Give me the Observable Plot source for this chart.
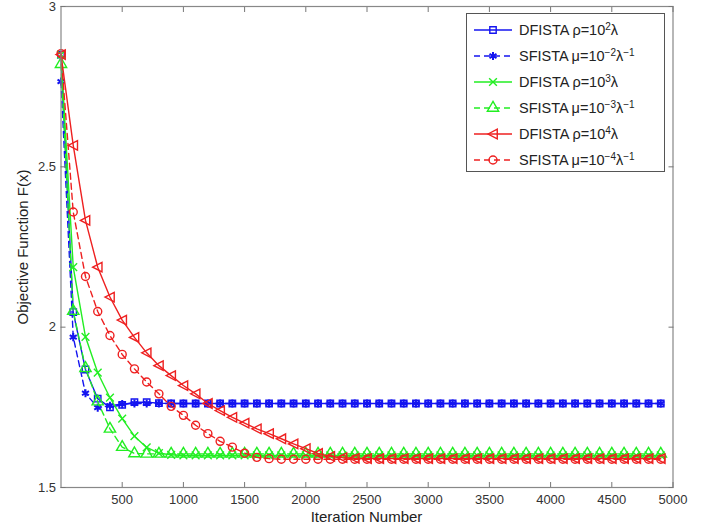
<!DOCTYPE html>
<html>
<head>
<meta charset="utf-8">
<script src="https://cdn.jsdelivr.net/npm/d3@7"></script>
<script src="https://cdn.jsdelivr.net/npm/@observablehq/plot@0.6"></script>
<style>
  body { margin: 0; background: #fff; }
  #wrap { position: relative; width: 715px; height: 531px; font-family: "Liberation Sans", Arial, sans-serif; }
  #legend { position: absolute; left: 466px; top: 13px; width: 199px; height: 159px; border: 1px solid #555; background: #fff; box-sizing: border-box; padding-top: 3px; }
  .row { display: flex; align-items: center; height: 26px; font-size: 14.5px; color: #222; }
  .row svg { margin-left: 6px; margin-right: 6px; }
  sup { font-size: 10px; vertical-align: 5px; line-height: 0; }
</style>
</head>
<body>
<div id="wrap"></div>
<script>
// ---- data ----
const iterations = [0,100,200,300,400,500,600,700,800,900,1000,1100,1200,1300,1400,1500,1600,1700,1800,1900,
  2000,2100,2200,2300,2400,2500,2600,2700,2800,2900,3000,3100,3200,3300,3400,3500,3600,3700,3800,3900,
  4000,4100,4200,4300,4400,4500,4600,4700,4800,4900];

const dfista_rho1e2 = [2.850,2.047,1.868,1.777,1.750,1.758,1.766,1.766,1.763,1.762,1.762,1.762,1.762,1.762,1.762,1.762,1.762,1.762,1.762,1.762,
  1.762,1.762,1.762,1.762,1.762,1.762,1.762,1.762,1.762,1.762,1.762,1.762,1.762,1.762,1.762,1.762,1.762,1.762,1.762,1.762,
  1.762,1.762,1.762,1.762,1.762,1.762,1.762,1.762,1.762,1.762];
const sfista_mu1e2 = [2.766,1.969,1.794,1.749,1.755,1.760,1.762,1.762,1.762,1.762,1.762,1.762,1.762,1.762,1.762,1.762,1.762,1.762,1.762,1.762,
  1.762,1.762,1.762,1.762,1.762,1.762,1.762,1.762,1.762,1.762,1.762,1.762,1.762,1.762,1.762,1.762,1.762,1.762,1.762,1.762,
  1.762,1.762,1.762,1.762,1.762,1.762,1.762,1.762,1.762,1.762];
const dfista_rho1e3 = [2.850,2.187,1.970,1.858,1.780,1.715,1.660,1.625,1.607,1.602,1.600,1.600,1.600,1.600,1.600,1.600,1.600,1.600,1.600,1.600,
  1.600,1.600,1.600,1.600,1.600,1.600,1.600,1.600,1.600,1.600,1.600,1.600,1.600,1.600,1.600,1.600,1.600,1.600,1.600,1.600,
  1.600,1.600,1.600,1.600,1.600,1.600,1.600,1.600,1.600,1.600];
const sfista_mu1e3 = [2.820,2.050,1.872,1.768,1.683,1.626,1.606,1.605,1.605,1.605,1.605,1.605,1.605,1.605,1.605,1.605,1.605,1.605,1.605,1.605,
  1.605,1.605,1.605,1.605,1.605,1.605,1.605,1.605,1.605,1.605,1.605,1.605,1.605,1.605,1.605,1.605,1.605,1.605,1.605,1.605,
  1.605,1.605,1.605,1.605,1.605,1.605,1.605,1.605,1.605,1.605];
const dfista_rho1e4 = [2.850,2.567,2.333,2.187,2.094,2.022,1.968,1.920,1.880,1.849,1.818,1.792,1.762,1.740,1.719,1.701,1.683,1.668,1.652,1.636,
  1.621,1.606,1.597,1.593,1.591,1.590,1.590,1.590,1.590,1.590,1.590,1.590,1.590,1.590,1.590,1.590,1.590,1.590,1.590,1.590,
  1.590,1.590,1.590,1.590,1.590,1.590,1.590,1.590,1.590,1.590];
const sfista_mu1e4 = [2.853,2.359,2.158,2.049,1.974,1.915,1.870,1.829,1.792,1.753,1.725,1.694,1.668,1.644,1.626,1.607,1.594,1.590,1.588,1.588,
  1.588,1.588,1.588,1.588,1.588,1.588,1.588,1.588,1.588,1.588,1.588,1.588,1.588,1.588,1.588,1.588,1.588,1.588,1.588,1.588,
  1.588,1.588,1.588,1.588,1.588,1.588,1.588,1.588,1.588,1.588];

const xTicks = [500,1000,1500,2000,2500,3000,3500,4000,4500,5000];
const yTicks = [1.5,2,2.5,3];

const BLUE = "#1414f0", GREEN = "#22ee22", RED = "#ee2020";

const triLeft = {
  draw(ctx, size) {
    const s = Math.sqrt(size / Math.PI) * 1.25;
    ctx.moveTo(-s, 0);
    ctx.lineTo(s * 0.85, -s * 0.95);
    ctx.lineTo(s * 0.85, s * 0.95);
    ctx.closePath();
  }
};

const seriesDefs = [
  {name: "d2", values: dfista_rho1e2, color: BLUE, dash: null, symbol: "square", r: 3.6},
  {name: "s2", values: sfista_mu1e2, color: BLUE, dash: "6,4", symbol: "asterisk", r: 3.8},
  {name: "d3", values: dfista_rho1e3, color: GREEN, dash: null, symbol: "times", r: 3.6},
  {name: "s3", values: sfista_mu1e3, color: GREEN, dash: "6,4", symbol: "triangle", r: 4.2},
  {name: "d4", values: dfista_rho1e4, color: RED, dash: null, symbol: triLeft, r: 4},
  {name: "s4", values: sfista_mu1e4, color: RED, dash: "6,4", symbol: "circle", r: 4}
];

const marks = [];
for (const s of seriesDefs) {
  const data = iterations.map((it, i) => ({it, v: s.values[i]}));
  marks.push(Plot.line(data, {x: "it", y: "v", stroke: s.color, strokeWidth: 1.4, strokeDasharray: s.dash}));
  marks.push(Plot.dot(data, {x: "it", y: "v", stroke: s.color, strokeWidth: s.symbol === "asterisk" ? 2 : 1.4, symbol: s.symbol, r: s.r, fill: "none"}));
}

const chart = Plot.plot({
  width: 715,
  height: 531,
  marginLeft: 60.5,
  marginRight: 42.5,
  marginTop: 6,
  marginBottom: 44,
  style: {fontFamily: "Liberation Sans, Arial, sans-serif", fontSize: "13px", color: "#333", background: "#fff"},
  x: {domain: [0, 5000]},
  y: {domain: [1.5, 3]},
  marks: [
    ...marks,
    Plot.frame({stroke: "#888", strokeWidth: 1.2}),
    Plot.axisX({ticks: xTicks, tickSize: -5, tickPadding: 12, tickFormat: d => String(d), stroke: "#777", label: null, fontSize: 13}),
    Plot.axisX({anchor: "top", ticks: xTicks, tickSize: -5, tickFormat: () => "", stroke: "#777", label: null}),
    Plot.axisY({ticks: yTicks, tickSize: -5, tickPadding: 10, tickFormat: d => String(d), stroke: "#777", label: null, fontSize: 13}),
    Plot.axisY({anchor: "right", ticks: yTicks, tickSize: -5, tickFormat: () => "", stroke: "#777", label: null})
  ]
});

const wrap = document.getElementById("wrap");
wrap.appendChild(chart);

// axis titles
const xt = document.createElement("div");
xt.textContent = "Iteration Number";
Object.assign(xt.style, {position: "absolute", left: "0px", width: "733px", top: "508px", textAlign: "center", fontSize: "15px", color: "#222"});
wrap.appendChild(xt);
const yt = document.createElement("div");
yt.textContent = "Objective Function F(x)";
Object.assign(yt.style, {position: "absolute", left: "22px", top: "247px", transform: "translate(-50%,-50%) rotate(-90deg)", whiteSpace: "nowrap", fontSize: "15px", color: "#222"});
wrap.appendChild(yt);

// legend
const legendLabels = [
  "DFISTA&thinsp;ρ=10<sup>2</sup>λ",
  "SFISTA&thinsp;μ=10<sup>−2</sup>λ<sup>−1</sup>",
  "DFISTA&thinsp;ρ=10<sup>3</sup>λ",
  "SFISTA&thinsp;μ=10<sup>−3</sup>λ<sup>−1</sup>",
  "DFISTA&thinsp;ρ=10<sup>4</sup>λ",
  "SFISTA&thinsp;μ=10<sup>−4</sup>λ<sup>−1</sup>"
];
const symMap = {square: d3.symbolSquare, asterisk: d3.symbolAsterisk, times: d3.symbolTimes, triangle: d3.symbolTriangle, circle: d3.symbolCircle};
const legend = document.createElement("div");
legend.id = "legend";
seriesDefs.forEach((s, i) => {
  const row = document.createElement("div");
  row.className = "row";
  const sym = d3.create("svg").attr("width", 40).attr("height", 20);
  sym.append("line").attr("x1", 1).attr("x2", 39).attr("y1", 10).attr("y2", 10)
    .attr("stroke", s.color).attr("stroke-width", 1.4).attr("stroke-dasharray", s.dash);
  const st = typeof s.symbol === "string" ? symMap[s.symbol] : s.symbol;
  sym.append("path").attr("transform", "translate(20,10)")
    .attr("d", d3.symbol(st, Math.PI * s.r * s.r)())
    .attr("fill", "none").attr("stroke", s.color).attr("stroke-width", s.symbol === "asterisk" ? 2 : 1.4);
  row.appendChild(sym.node());
  const t = document.createElement("span");
  t.innerHTML = legendLabels[i];
  row.appendChild(t);
  legend.appendChild(row);
});
wrap.appendChild(legend);
</script>
</body>
</html>
